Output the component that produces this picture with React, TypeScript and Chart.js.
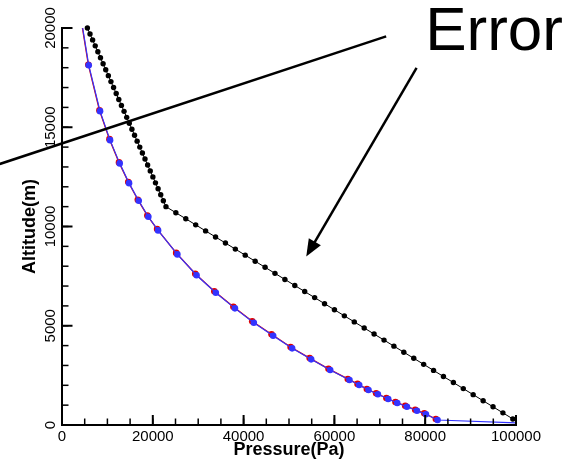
import React, { useEffect, useRef } from 'react';
import { Chart, registerables } from 'chart.js';

Chart.register(...registerables);

// Axis ticks and their printed labels
const pressureTicks = [0, 20000, 40000, 60000, 80000, 100000];
const pressureTickLabels = ['0', '20000', '40000', '60000', '80000', '100000'];
const altitudeTicks = [0, 5000, 10000, 15000, 20000];
const altitudeTickLabels = ['0', '5000', '10000', '15000', '20000'];
const pressureMinorStep = 5000;
const altitudeMinorStep = 1000;

// Piecewise-linear pressure model (black)
const modelPressure = [
  5590, 6170, 6740, 7320, 7900, 8480, 9050, 9630, 10210, 10780,
  11360, 11940, 12510, 13090, 13670, 14250, 14820, 15400, 15980, 16550,
  17130, 17710, 18280, 18860, 19440, 20020, 20590, 21170, 21750, 22320,
  22900, 25080, 27270, 29450, 31630, 33820, 36000, 38180, 40360, 42550,
  44730, 46910, 49100, 51280, 53460, 55650, 57830, 60010, 62190, 64380,
  66560, 68740, 70930, 73110, 75290, 77480, 79660, 81840, 84020, 86210,
  88390, 90570, 92760, 94940, 97120, 99300,
];
const modelAltitude = [
  20000, 19700, 19400, 19100, 18800, 18500, 18200, 17900, 17600, 17300,
  17000, 16700, 16400, 16100, 15800, 15500, 15200, 14900, 14600, 14300,
  14000, 13700, 13400, 13100, 12800, 12500, 12200, 11900, 11600, 11300,
  11000, 10694, 10389, 10083, 9778, 9472, 9167, 8861, 8556, 8250,
  7944, 7639, 7333, 7028, 6722, 6417, 6111, 5806, 5500, 5194,
  4889, 4583, 4278, 3972, 3667, 3361, 3056, 2750, 2444, 2139,
  1833, 1528, 1222, 917, 611, 306,
];

// Measured profile (blue); first and last entries are line ends without markers
const measuredPressure = [
  4560, 5885, 8376, 10580, 12710, 14770, 16900, 19020, 21160, 25410,
  29640, 33880, 38090, 42250, 46510, 50690, 54880, 59070, 63320, 65460,
  67510, 69580, 71850, 73840, 75970, 78180, 80160, 82720, 100000,
];
const measuredAltitude = [
  20000, 18127, 15811, 14350, 13180, 12185, 11294, 10490, 9804, 8595,
  7543, 6662, 5876, 5151, 4496, 3862, 3308, 2769, 2266, 2014,
  1762, 1546, 1309, 1108, 921, 720, 538, 252, 110,
];

// Reference profile (red); first entry is the line end without a marker
const referencePressure = [
  4500, 5800, 8250, 10450, 12550, 14600, 16700, 18800, 20950, 25150,
  29350, 33550, 37750, 41900, 46150, 50350, 54550, 58700, 62950, 65100,
  67150, 69200, 71450, 73450, 75600, 77800, 79800, 82350,
];
const referenceAltitude = [
  20000, 18150, 15850, 14400, 13230, 12240, 11350, 10550, 9870, 8670,
  7620, 6740, 5960, 5230, 4570, 3930, 3370, 2830, 2320, 2070,
  1810, 1600, 1360, 1160, 970, 770, 590, 300,
];

// "Error" call-out, in data units (pressure, altitude)
const errorLabelAt = [80000, 18900];
const pointerFrom = [-13700, 13150];
const pointerTo = [71400, 19580];
const arrowFrom = [78100, 17990];
const arrowTip = [53800, 8490];

const toPoints = (xs: number[], ys: number[]) => xs.map((x, i) => ({ x, y: ys[i] }));

const FONT = '"Liberation Sans", Arial, Helvetica, sans-serif';

// Tick marks pointing into the plot, major and minor, taken from the scales' own ticks
const inwardTicks = {
  id: 'inwardTicks',
  afterDraw(chart: any) {
    const { ctx, chartArea, scales } = chart;
    const left = chartArea.left;
    const bottom = chartArea.bottom;
    ctx.save();
    ctx.strokeStyle = '#000';
    ctx.lineCap = 'butt';
    const vertical = (scale: any, len: number, width: number) => {
      ctx.lineWidth = width;
      for (const t of scale.ticks) {
        const p = scale.getPixelForValue(t.value);
        ctx.beginPath();
        ctx.moveTo(left, p);
        ctx.lineTo(left + len, p);
        ctx.stroke();
      }
    };
    const horizontal = (scale: any, len: number, width: number) => {
      ctx.lineWidth = width;
      for (const t of scale.ticks) {
        const p = scale.getPixelForValue(t.value);
        ctx.beginPath();
        ctx.moveTo(p, bottom);
        ctx.lineTo(p, bottom - len);
        ctx.stroke();
      }
    };
    vertical(scales.yMinor, 6.5, 1.5);
    vertical(scales.y, 10.5, 2);
    horizontal(scales.xMinor, 6.5, 1.5);
    horizontal(scales.x, 10, 2);
    ctx.restore();
  },
};

const errorNote = {
  id: 'errorNote',
  afterDraw(chart: any) {
    const { ctx, scales } = chart;
    const px = (v: number) => scales.x.getPixelForValue(v);
    const py = (v: number) => scales.y.getPixelForValue(v);
    ctx.save();
    ctx.strokeStyle = '#000';
    ctx.fillStyle = '#000';
    ctx.lineWidth = 2.5;

    ctx.beginPath();
    ctx.moveTo(px(pointerFrom[0]), py(pointerFrom[1]));
    ctx.lineTo(px(pointerTo[0]), py(pointerTo[1]));
    ctx.stroke();

    const sx = px(arrowFrom[0]);
    const sy = py(arrowFrom[1]);
    const tx = px(arrowTip[0]);
    const ty = py(arrowTip[1]);
    const len = Math.hypot(tx - sx, ty - sy);
    const ux = (tx - sx) / len;
    const uy = (ty - sy) / len;
    const headLen = 17;
    const headHalf = 7;
    const bx = tx - ux * headLen;
    const by = ty - uy * headLen;
    ctx.beginPath();
    ctx.moveTo(sx, sy);
    ctx.lineTo(bx + ux * 2, by + uy * 2);
    ctx.stroke();
    ctx.beginPath();
    ctx.moveTo(tx, ty);
    ctx.lineTo(bx - uy * headHalf, by + ux * headHalf);
    ctx.lineTo(bx + uy * headHalf, by - ux * headHalf);
    ctx.closePath();
    ctx.fill();

    ctx.font = `62px ${FONT}`;
    ctx.textAlign = 'left';
    ctx.textBaseline = 'alphabetic';
    ctx.fillText('Error', px(errorLabelAt[0]), py(errorLabelAt[1]));
    ctx.restore();
  },
};

export default function App() {
  const canvasRef = useRef<HTMLCanvasElement>(null);

  useEffect(() => {
    const canvas = canvasRef.current;
    if (!canvas) return;

    const lastMeasured = measuredPressure.length - 1;

    const chart = new Chart(canvas, {
      type: 'scatter',
      data: {
        datasets: [
          {
            label: 'measured',
            data: toPoints(measuredPressure, measuredAltitude),
            showLine: true,
            borderColor: '#3333ff',
            borderWidth: 1.2,
            backgroundColor: '#3333ff',
            pointBackgroundColor: '#3333ff',
            pointBorderColor: '#3333ff',
            pointBorderWidth: 0,
            pointRadius: (c: any) => (c.dataIndex === 0 || c.dataIndex === lastMeasured ? 0 : 3.3),
            clip: false,
          },
          {
            label: 'reference',
            data: toPoints(referencePressure, referenceAltitude),
            showLine: true,
            borderColor: '#e00000',
            borderWidth: 1.3,
            backgroundColor: '#e00000',
            pointBackgroundColor: '#e00000',
            pointBorderColor: '#e00000',
            pointBorderWidth: 0,
            pointRadius: (c: any) => (c.dataIndex === 0 ? 0 : 3.3),
            clip: false,
          },
          {
            label: 'model',
            data: toPoints(modelPressure, modelAltitude),
            showLine: true,
            borderColor: '#000',
            borderWidth: 1,
            backgroundColor: '#000',
            pointBackgroundColor: '#000',
            pointBorderColor: '#000',
            pointBorderWidth: 0,
            pointRadius: 2.7,
            clip: false,
          },
        ],
      },
      options: {
        responsive: false,
        animation: false,
        devicePixelRatio: 1,
        events: [],
        layout: { padding: { top: 28, right: 64, left: 0, bottom: 0 } },
        plugins: {
          legend: { display: false },
          tooltip: { enabled: false },
        },
        scales: {
          x: {
            type: 'linear',
            position: 'bottom',
            weight: 1,
            min: 0,
            max: 100000,
            afterFit: (s: any) => { s.height = 39; },
            afterBuildTicks: (s: any) => { s.ticks = pressureTicks.map((value) => ({ value })); },
            ticks: {
              color: '#000',
              font: { family: FONT, size: 15 },
              padding: 2.5,
              maxRotation: 0,
              autoSkip: false,
              callback: (_v: any, i: number) => pressureTickLabels[i],
            },
            grid: { drawOnChartArea: false, drawTicks: false },
            border: { display: true, color: '#000', width: 2 },
            title: {
              display: true,
              text: 'Pressure(Pa)',
              color: '#000',
              font: { family: FONT, size: 18, weight: 'bold' },
              padding: { top: 0, bottom: 3 },
            },
          },
          xMinor: {
            type: 'linear',
            position: 'bottom',
            weight: 0,
            min: 0,
            max: 100000,
            afterFit: (s: any) => { s.height = 0; },
            ticks: { display: false, stepSize: pressureMinorStep },
            grid: { display: false, drawTicks: false },
            border: { display: false },
          },
          y: {
            type: 'linear',
            position: 'left',
            weight: 1,
            min: 0,
            max: 20000,
            afterFit: (s: any) => { s.width = 62; },
            afterBuildTicks: (s: any) => { s.ticks = altitudeTicks.map((value) => ({ value })); },
            ticks: {
              color: '#000',
              font: { family: FONT, size: 15 },
              padding: -10,
              minRotation: 90,
              maxRotation: 90,
              crossAlign: 'center',
              autoSkip: false,
              callback: (_v: any, i: number) => altitudeTickLabels[i],
            },
            grid: { drawOnChartArea: false, drawTicks: false },
            border: { display: true, color: '#000', width: 2 },
            title: {
              display: true,
              text: 'Altitude(m)',
              color: '#000',
              font: { family: FONT, size: 18, weight: 'bold' },
              padding: { top: 19, bottom: 0 },
            },
          },
          yMinor: {
            type: 'linear',
            position: 'left',
            weight: 0,
            min: 0,
            max: 20000,
            afterFit: (s: any) => { s.width = 0; },
            ticks: { display: false, stepSize: altitudeMinorStep },
            grid: { display: false, drawTicks: false },
            border: { display: false },
          },
        },
      } as any,
      plugins: [inwardTicks, errorNote],
    });

    return () => chart.destroy();
  }, []);

  return (
    <div style={{ position: 'absolute', left: 0, top: 0, width: 580, height: 464, background: '#fff' }}>
      <canvas ref={canvasRef} width={580} height={464} style={{ display: 'block', width: 580, height: 464 }} />
    </div>
  );
}
